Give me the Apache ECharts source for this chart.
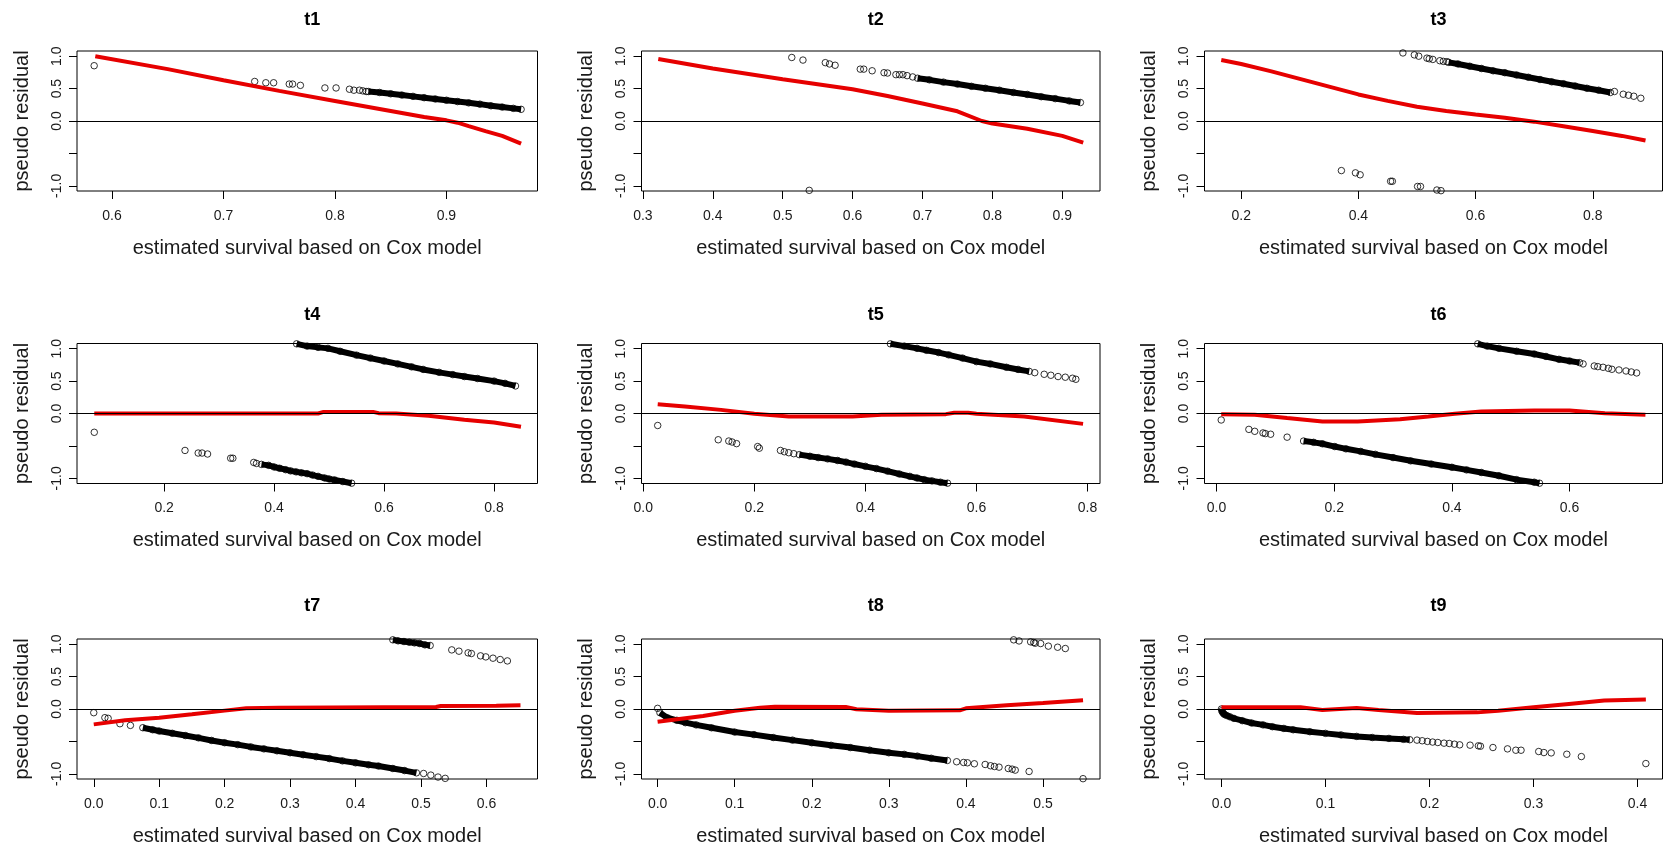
<!DOCTYPE html>
<html><head><meta charset="utf-8">
<script src="https://cdn.jsdelivr.net/npm/echarts@6/dist/echarts.min.js"></script>
<style>html,body{margin:0;padding:0;background:#fff}#c{width:1665px;height:852px}</style>
</head><body><div id="c"></div>
<script>
const FONT = "'Liberation Sans', Arial, sans-serif";
const xTitle = 'estimated survival based on Cox model';
const yTitle = 'pseudo residual';
const yTicks = [-1, -0.5, 0, 0.5, 1];
const yRange = [-1.08, 1.08];

// ---------- t1 ----------
const t1_xRange = [0.5686, 0.9817];
const t1_xTicks = [0.6, 0.7, 0.8, 0.9];
const t1_points = [[0.584,0.853],[0.728,0.61],[0.738,0.59],[0.745,0.59],[0.759,0.57],[0.762,0.57],[0.769,0.55],[0.791,0.51],[0.801,0.51],[0.813,0.49],[0.817,0.475],[0.822,0.475],[0.825,0.465],[0.828,0.455]];
const t1_band1 = [[0.830,0.455],[0.840,0.44],[0.850,0.42],[0.860,0.40],[0.870,0.38],[0.880,0.36],[0.890,0.34],[0.900,0.32],[0.910,0.30],[0.920,0.28],[0.930,0.26],[0.940,0.235],[0.950,0.215],[0.960,0.195],[0.967,0.18]];
const t1_red = [[0.585,1.0],[0.65,0.80],[0.70,0.63],[0.75,0.465],[0.80,0.31],[0.85,0.155],[0.88,0.062],[0.90,0.01],[0.91,-0.026],[0.92,-0.078],[0.935,-0.155],[0.95,-0.23],[0.967,-0.35]];

// ---------- t2 ----------
const t2_xRange = [0.298, 0.954];
const t2_xTicks = [0.3, 0.4, 0.5, 0.6, 0.7, 0.8, 0.9];
const t2_points = [[0.513,0.98],[0.529,0.94],[0.561,0.90],[0.567,0.88],[0.575,0.86],[0.611,0.80],[0.616,0.80],[0.628,0.775],[0.645,0.745],[0.650,0.74],[0.662,0.715],[0.667,0.715],[0.672,0.715],[0.678,0.70],[0.686,0.68],[0.538,-1.07]];
const t2_band1 = [[0.693,0.66],[0.71,0.635],[0.73,0.60],[0.75,0.57],[0.77,0.535],[0.79,0.505],[0.81,0.475],[0.83,0.44],[0.85,0.41],[0.87,0.375],[0.89,0.345],[0.91,0.31],[0.926,0.285]];
const t2_red = [[0.322,0.956],[0.40,0.81],[0.50,0.645],[0.60,0.49],[0.65,0.385],[0.70,0.27],[0.75,0.15],[0.785,0.0],[0.80,-0.04],[0.85,-0.12],[0.90,-0.23],[0.93,-0.335]];

// ---------- t3 ----------
const t3_xRange = [0.1374, 0.919];
const t3_xTicks = [0.2, 0.4, 0.6, 0.8];
const t3_points = [[0.476,1.05],[0.4955,1.02],[0.503,1.0],[0.517,0.97],[0.521,0.96],[0.527,0.95],[0.539,0.93],[0.545,0.92],[0.551,0.915],[0.837,0.455],[0.852,0.413],[0.861,0.398],[0.870,0.382],[0.882,0.351],[0.371,-0.765],[0.395,-0.80],[0.403,-0.83],[0.455,-0.93],[0.458,-0.93],[0.501,-1.01],[0.506,-1.01],[0.534,-1.065],[0.541,-1.075]];
const t3_band1 = [[0.554,0.905],[0.57,0.88],[0.59,0.845],[0.61,0.81],[0.63,0.775],[0.65,0.745],[0.67,0.71],[0.69,0.675],[0.71,0.64],[0.73,0.605],[0.75,0.575],[0.77,0.54],[0.79,0.505],[0.81,0.475],[0.83,0.44]];
const t3_red = [[0.166,0.94],[0.2,0.88],[0.25,0.77],[0.3,0.65],[0.35,0.53],[0.4,0.41],[0.45,0.31],[0.5,0.22],[0.55,0.155],[0.6,0.10],[0.65,0.05],[0.7,-0.01],[0.75,-0.08],[0.8,-0.155],[0.85,-0.23],[0.89,-0.30]];

// ---------- t4 ----------
const t4_xRange = [0.0416, 0.879];
const t4_xTicks = [0.2, 0.4, 0.6, 0.8];
const t4_points = [[0.073,-0.29],[0.238,-0.57],[0.262,-0.61],[0.269,-0.61],[0.279,-0.625],[0.321,-0.69],[0.325,-0.69],[0.363,-0.755],[0.368,-0.77]];
const t4_band1 = [[0.377,-0.785],[0.39,-0.80],[0.40,-0.825],[0.41,-0.845],[0.421,-0.867],[0.43,-0.885],[0.44,-0.90],[0.45,-0.915],[0.46,-0.928],[0.47,-0.95],[0.48,-0.97],[0.492,-0.995],[0.50,-1.01],[0.51,-1.025],[0.525,-1.05],[0.541,-1.075]];
const t4_band2 = [[0.441,1.075],[0.46,1.04],[0.48,1.02],[0.498,1.005],[0.52,0.96],[0.55,0.90],[0.575,0.855],[0.60,0.81],[0.625,0.765],[0.65,0.72],[0.671,0.68],[0.70,0.635],[0.725,0.60],[0.746,0.57],[0.77,0.54],[0.80,0.50],[0.82,0.465],[0.839,0.425]];
const t4_red = [[0.073,0.0],[0.48,0.0],[0.49,0.025],[0.58,0.025],[0.59,0.005],[0.622,0.0],[0.681,-0.036],[0.746,-0.097],[0.80,-0.138],[0.849,-0.205]];

// ---------- t5 ----------
const t5_xRange = [-0.0032, 0.8225];
const t5_xTicks = [0.0, 0.2, 0.4, 0.6, 0.8];
const t5_points = [[0.026,-0.185],[0.135,-0.405],[0.154,-0.425],[0.160,-0.44],[0.168,-0.465],[0.206,-0.51],[0.209,-0.535],[0.247,-0.57],[0.254,-0.59],[0.262,-0.605],[0.271,-0.62],[0.705,0.63],[0.722,0.605],[0.734,0.59],[0.747,0.57],[0.760,0.56],[0.773,0.544],[0.779,0.528]];
const t5_band1 = [[0.281,-0.635],[0.30,-0.66],[0.315,-0.68],[0.332,-0.70],[0.35,-0.725],[0.365,-0.75],[0.38,-0.78],[0.40,-0.815],[0.42,-0.85],[0.44,-0.89],[0.461,-0.933],[0.48,-0.97],[0.493,-0.995],[0.506,-1.02],[0.52,-1.04],[0.535,-1.06],[0.548,-1.075]];
const t5_band2 = [[0.445,1.075],[0.47,1.04],[0.493,1.005],[0.51,0.975],[0.532,0.94],[0.55,0.905],[0.575,0.855],[0.6,0.80],[0.625,0.765],[0.654,0.713],[0.675,0.68],[0.695,0.65]];
const t5_red = [[0.026,0.144],[0.075,0.108],[0.14,0.056],[0.2,-0.005],[0.262,-0.046],[0.377,-0.046],[0.429,-0.02],[0.545,-0.01],[0.56,0.012],[0.585,0.012],[0.6,-0.005],[0.686,-0.046],[0.792,-0.16]];

// ---------- t6 ----------
const t6_xRange = [-0.0204, 0.758];
const t6_xTicks = [0.0, 0.2, 0.4, 0.6];
const t6_points = [[0.008,-0.10],[0.055,-0.245],[0.065,-0.275],[0.079,-0.30],[0.083,-0.31],[0.092,-0.32],[0.12,-0.365],[0.623,0.765],[0.642,0.733],[0.648,0.723],[0.657,0.713],[0.666,0.697],[0.672,0.682],[0.684,0.672],[0.696,0.656],[0.705,0.641],[0.714,0.626]];
const t6_band1 = [[0.148,-0.425],[0.165,-0.445],[0.18,-0.467],[0.201,-0.51],[0.22,-0.545],[0.245,-0.585],[0.27,-0.63],[0.30,-0.68],[0.33,-0.73],[0.365,-0.78],[0.40,-0.83],[0.425,-0.87],[0.45,-0.91],[0.48,-0.96],[0.51,-1.02],[0.54,-1.06],[0.549,-1.075]];
const t6_band2 = [[0.444,1.075],[0.46,1.04],[0.48,1.005],[0.51,0.96],[0.54,0.918],[0.56,0.88],[0.582,0.836],[0.60,0.81],[0.617,0.785]];
const t6_red = [[0.008,-0.01],[0.065,-0.02],[0.12,-0.07],[0.18,-0.123],[0.24,-0.123],[0.312,-0.087],[0.36,-0.046],[0.405,-0.005],[0.45,0.03],[0.54,0.046],[0.6,0.046],[0.66,0.005],[0.729,-0.02]];

// ---------- t7 ----------
const t7_xRange = [-0.0256, 0.678];
const t7_xTicks = [0.0, 0.1, 0.2, 0.3, 0.4, 0.5, 0.6];
const t7_points = [[0.0,-0.057],[0.017,-0.134],[0.022,-0.144],[0.04,-0.227],[0.056,-0.253],[0.504,-0.995],[0.515,-1.02],[0.526,-1.05],[0.537,-1.07],[0.547,0.912],[0.558,0.892],[0.572,0.866],[0.577,0.856],[0.591,0.82],[0.599,0.804],[0.61,0.784],[0.621,0.763],[0.632,0.742]];
const t7_band1 = [[0.075,-0.289],[0.09,-0.32],[0.10,-0.34],[0.12,-0.375],[0.14,-0.41],[0.16,-0.445],[0.18,-0.485],[0.20,-0.52],[0.22,-0.55],[0.24,-0.585],[0.26,-0.615],[0.28,-0.645],[0.30,-0.675],[0.32,-0.705],[0.34,-0.735],[0.36,-0.765],[0.38,-0.80],[0.40,-0.83],[0.42,-0.86],[0.435,-0.88],[0.457,-0.918],[0.475,-0.95],[0.493,-0.985]];
const t7_band2 = [[0.457,1.067],[0.465,1.052],[0.474,1.041],[0.482,1.031],[0.49,1.02],[0.498,1.01],[0.506,0.99],[0.514,0.98]];
const t7_red = [[0.0,-0.237],[0.048,-0.175],[0.1,-0.134],[0.15,-0.08],[0.2,-0.025],[0.233,0.01],[0.283,0.02],[0.523,0.03],[0.53,0.046],[0.615,0.05],[0.652,0.057]];

// ---------- t8 ----------
const t8_xRange = [-0.0209, 0.574];
const t8_xTicks = [0.0, 0.1, 0.2, 0.3, 0.4, 0.5];
const t8_points = [[0.0,0.01],[0.388,-0.814],[0.397,-0.825],[0.402,-0.83],[0.411,-0.845],[0.425,-0.856],[0.432,-0.876],[0.437,-0.887],[0.443,-0.897],[0.455,-0.918],[0.46,-0.928],[0.464,-0.943],[0.482,-0.964],[0.552,-1.075],[0.462,1.067],[0.469,1.05],[0.484,1.036],[0.488,1.026],[0.49,1.015],[0.497,1.01],[0.507,0.97],[0.519,0.953],[0.529,0.933]];
const t8_band1 = [[0.003,-0.057],[0.0125,-0.134],[0.025,-0.175],[0.036,-0.211],[0.05,-0.245],[0.07,-0.29],[0.1,-0.356],[0.125,-0.395],[0.15,-0.44],[0.175,-0.48],[0.2,-0.52],[0.225,-0.56],[0.25,-0.595],[0.275,-0.635],[0.3,-0.675],[0.32,-0.70],[0.337,-0.727],[0.355,-0.76],[0.376,-0.794]];
const t8_red = [[0.0,-0.196],[0.059,-0.108],[0.1,-0.026],[0.133,0.02],[0.152,0.036],[0.244,0.03],[0.258,-0.005],[0.3,-0.026],[0.392,-0.02],[0.4,0.01],[0.453,0.057],[0.5,0.093],[0.552,0.134]];

// ---------- t9 ----------
const t9_xRange = [-0.0163, 0.424];
const t9_xTicks = [0.0, 0.1, 0.2, 0.3, 0.4];
const t9_points = [[0.188,-0.48],[0.193,-0.49],[0.198,-0.50],[0.203,-0.51],[0.208,-0.517],[0.214,-0.527],[0.219,-0.532],[0.224,-0.543],[0.229,-0.553],[0.239,-0.558],[0.247,-0.568],[0.249,-0.574],[0.261,-0.594],[0.275,-0.615],[0.283,-0.636],[0.288,-0.636],[0.305,-0.656],[0.31,-0.672],[0.317,-0.677],[0.332,-0.698],[0.346,-0.734],[0.408,-0.842]];
const t9_band1 = [[0.0,0.0],[0.0003,-0.026],[0.001,-0.05],[0.002,-0.07],[0.003,-0.085],[0.005,-0.10],[0.008,-0.12],[0.012,-0.145],[0.02,-0.18],[0.029,-0.216],[0.04,-0.245],[0.049,-0.273],[0.06,-0.30],[0.069,-0.32],[0.085,-0.35],[0.1,-0.376],[0.115,-0.40],[0.13,-0.423],[0.145,-0.44],[0.161,-0.454],[0.175,-0.468],[0.181,-0.474]];
const t9_red = [[0.0,0.026],[0.076,0.026],[0.097,-0.015],[0.13,0.015],[0.151,-0.015],[0.188,-0.062],[0.246,-0.052],[0.266,-0.026],[0.3,0.026],[0.334,0.078],[0.368,0.13],[0.408,0.145]];

const panels = [
  {title:'t1', xRange:t1_xRange, xTicks:t1_xTicks, points:t1_points, bands:[t1_band1], red:t1_red},
  {title:'t2', xRange:t2_xRange, xTicks:t2_xTicks, points:t2_points, bands:[t2_band1], red:t2_red},
  {title:'t3', xRange:t3_xRange, xTicks:t3_xTicks, points:t3_points, bands:[t3_band1], red:t3_red},
  {title:'t4', xRange:t4_xRange, xTicks:t4_xTicks, points:t4_points, bands:[t4_band1, t4_band2], red:t4_red},
  {title:'t5', xRange:t5_xRange, xTicks:t5_xTicks, points:t5_points, bands:[t5_band1, t5_band2], red:t5_red},
  {title:'t6', xRange:t6_xRange, xTicks:t6_xTicks, points:t6_points, bands:[t6_band1, t6_band2], red:t6_red},
  {title:'t7', xRange:t7_xRange, xTicks:t7_xTicks, points:t7_points, bands:[t7_band1, t7_band2], red:t7_red},
  {title:'t8', xRange:t8_xRange, xTicks:t8_xTicks, points:t8_points, bands:[t8_band1], red:t8_red},
  {title:'t9', xRange:t9_xRange, xTicks:t9_xTicks, points:t9_points, bands:[t9_band1], red:t9_red}
];

// layout (px)
const colLeft = [77, 641.5, 1204.5];
const colWidth = [460.5, 458.5, 458];
const rowTop = [51, 343.5, 639];
const boxHeight = 140;
const titleTop = [6, 301, 592];

const TXT = '#1a1a1a';
const grids = [], xAxes = [], yAxes = [], titles = [], series = [];
panels.forEach((p, i) => {
  const c = i % 3, r = Math.floor(i / 3);
  grids.push({left: colLeft[c], top: rowTop[r], width: colWidth[c], height: boxHeight,
    show: true, borderColor: '#000', borderWidth: 1, backgroundColor: 'transparent',
    containLabel: false, outerBoundsMode: 'none'});
  titles.push({text: p.title, left: colLeft[c] + colWidth[c] / 2, top: titleTop[r], textAlign: 'center',
    textStyle: {fontFamily: FONT, fontSize: 18, fontWeight: 'bold', color: '#000'}});
  xAxes.push({gridIndex: i, type: 'value', min: p.xRange[0], max: p.xRange[1], position: 'bottom',
    axisLine: {show: false, onZero: false}, splitLine: {show: false},
    axisTick: {show: true, inside: false, length: 8, customValues: p.xTicks, lineStyle: {color: '#000', width: 1}},
    axisLabel: {customValues: p.xTicks, formatter: v => v.toFixed(1), fontFamily: FONT, fontSize: 14, color: TXT, margin: 18},
    name: xTitle, nameLocation: 'middle', nameGap: 47,
    nameTextStyle: {fontFamily: FONT, fontSize: 20, color: TXT}});
  yAxes.push({gridIndex: i, type: 'value', min: yRange[0], max: yRange[1], position: 'left',
    axisLine: {show: false, onZero: false}, splitLine: {show: false},
    axisTick: {show: true, inside: false, length: 8, customValues: yTicks, lineStyle: {color: '#000', width: 1}},
    axisLabel: {customValues: yTicks, rotate: 90, formatter: v => (Math.abs(v + 0.5) < 1e-9 ? '' : v.toFixed(1)),
      fontFamily: FONT, fontSize: 14, color: TXT, margin: 13},
    name: yTitle, nameLocation: 'middle', nameGap: 45,
    nameTextStyle: {fontFamily: FONT, fontSize: 20, color: TXT}});
  p.bands.forEach(b => {
    series.push({type: 'line', xAxisIndex: i, yAxisIndex: i, data: b, showSymbol: false, symbol: 'none',
      lineStyle: {color: '#000', width: 6}, z: 2, silent: true, clip: true});
  });
  const all = p.points.concat(...p.bands);
  series.push({type: 'scatter', xAxisIndex: i, yAxisIndex: i, data: all, symbol: 'circle', symbolSize: 6.5,
    itemStyle: {color: 'rgba(0,0,0,0)', borderColor: '#000', borderWidth: 1}, z: 3, silent: true, clip: true,
    markLine: {silent: true, symbol: ['none', 'none'], label: {show: false}, animation: false,
      lineStyle: {color: '#000', width: 1.2, type: 'solid'}, data: [{yAxis: 0}]}});
  series.push({type: 'line', xAxisIndex: i, yAxisIndex: i, data: p.red, showSymbol: false, symbol: 'none',
    lineStyle: {color: '#e60000', width: 4}, z: 4, silent: true, clip: true});
});

const chart = echarts.init(document.getElementById('c'), null, {renderer: 'canvas'});
chart.setOption({animation: false, backgroundColor: '#fff', title: titles, grid: grids,
  xAxis: xAxes, yAxis: yAxes, series: series});
</script></body></html>
